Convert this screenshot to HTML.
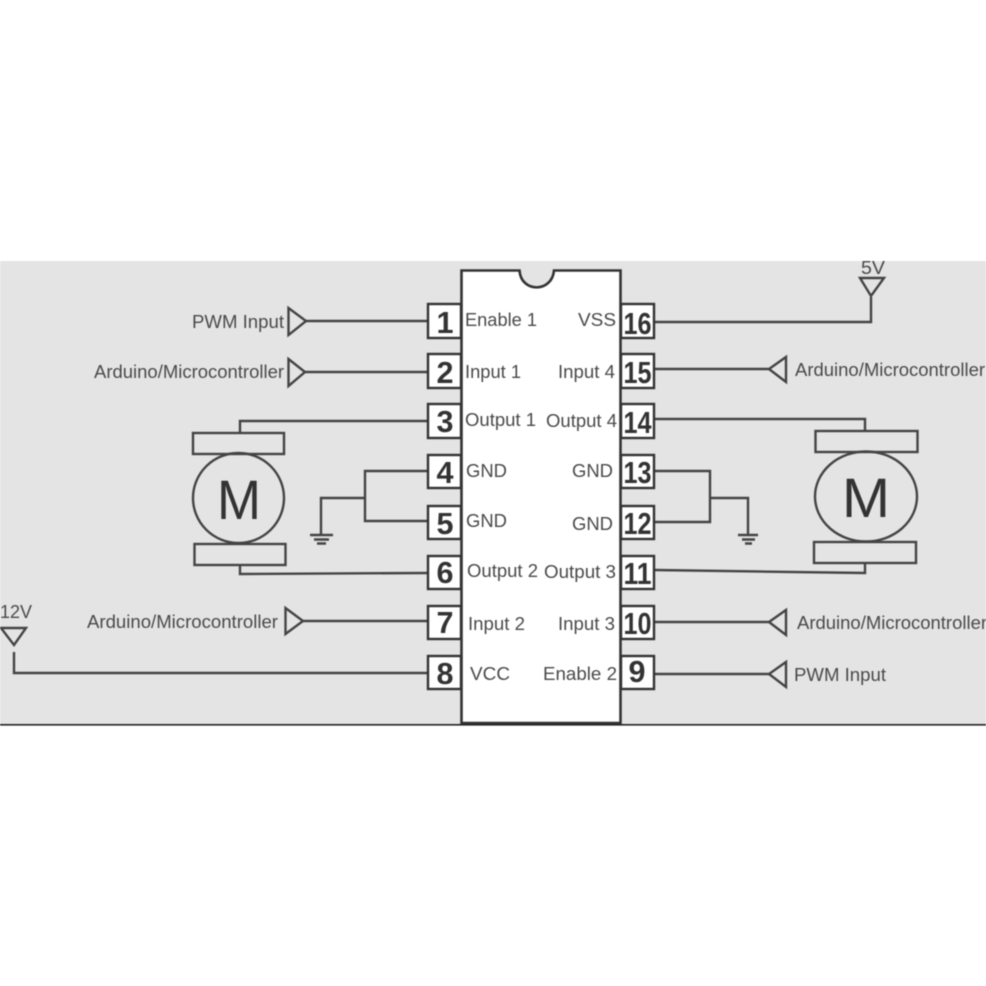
<!DOCTYPE html>
<html><head><meta charset="utf-8"><style>
html,body{margin:0;padding:0;background:#fff;width:986px;height:986px;overflow:hidden}
svg{display:block;filter:blur(.45px)}
text{font-family:"Liberation Sans",Arimo,Arial,Helvetica,sans-serif}
.t{font-size:18.5px;fill:#4a4a4a}
.n{font-size:31px;font-weight:700;fill:#333;text-anchor:middle}
.l{fill:none;stroke:#444;stroke-width:2.4}
.b{fill:#fff;stroke:#333;stroke-width:2.4}
</style></head><body>
<svg width="986" height="986" viewBox="0 0 986 986" xmlns="http://www.w3.org/2000/svg">
<rect x="0" y="261" width="986" height="463" fill="#e4e4e4"/>
<rect x="0" y="724" width="986" height="1.6" fill="#222"/>
<path d="M461.500 723V270.500H519.500C521 293 552 293 554 270.500H620.500V723Z" fill="#fff" stroke="#333" stroke-width="2.6"/>
<g class="l">
<path d="M306 321H428"/>
<path d="M305 372H428"/>
<path d="M240 432V421H428"/>
<path d="M428 471H365V521H428"/>
<path d="M365 498H321V535"/>
<path d="M240 566V574L428 573"/>
<path d="M303 621H428"/>
<path d="M14 652V673H428"/>
<path d="M654 322H871V297"/>
<path d="M654 369H769"/>
<path d="M654 419H865V430"/>
<path d="M654 471H710V522H654"/>
<path d="M710 498H748V535"/>
<path d="M654 570L865 573V563"/>
<path d="M654 622H769"/>
<path d="M654 674H769"/>
<path d="M288.500 308V335L306 321Z"/>
<path d="M288.500 359V386L305 372Z"/>
<path d="M285.500 608V634L303 621Z"/>
<path d="M1 628H26L14 645Z"/>
<path d="M860 278H884L871 296Z"/>
<path d="M786 357V382L769 369Z"/>
<path d="M786 610V635L769 622Z"/>
<path d="M786 662V687L769 674Z"/>
<rect x="193" y="433" width="91" height="21"/>
<rect x="194.500" y="544" width="91" height="21"/>
<ellipse cx="238.500" cy="498" rx="45.500" ry="45"/>
<rect x="815.500" y="431" width="102" height="21"/>
<rect x="814" y="542" width="102" height="21"/>
<ellipse cx="866" cy="496.500" rx="51" ry="45"/>
<path d="M310 535H333M314 539.500H329M317 543.500H326"/>
<path d="M738 535H758M742 539.500H755M745 543.500H752"/>
</g>
<g class="b">
<rect x="428" y="304" width="33" height="34"/><rect x="428" y="354" width="33" height="34"/>
<rect x="428" y="404" width="33" height="34"/><rect x="428" y="455" width="33" height="33"/>
<rect x="428" y="506" width="33" height="33"/><rect x="428" y="556" width="33" height="33"/>
<rect x="428" y="606" width="33" height="33"/><rect x="428" y="656" width="33" height="33"/>
<rect x="621" y="304" width="33" height="34"/><rect x="621" y="354" width="33" height="34"/>
<rect x="621" y="404" width="33" height="34"/><rect x="621" y="455" width="33" height="33"/>
<rect x="621" y="506" width="33" height="33"/><rect x="621" y="556" width="33" height="33"/>
<rect x="621" y="606" width="33" height="33"/><rect x="621" y="656" width="33" height="33"/>
</g>
<g lengthAdjust="spacingAndGlyphs">
<text class="n" x="445" y="333" textLength="17" lengthAdjust="spacingAndGlyphs">1</text><text class="n" x="445" y="383" textLength="17" lengthAdjust="spacingAndGlyphs">2</text>
<text class="n" x="445" y="432" textLength="17" lengthAdjust="spacingAndGlyphs">3</text><text class="n" x="445" y="483" textLength="17" lengthAdjust="spacingAndGlyphs">4</text>
<text class="n" x="445" y="534" textLength="17" lengthAdjust="spacingAndGlyphs">5</text><text class="n" x="445" y="583" textLength="17" lengthAdjust="spacingAndGlyphs">6</text>
<text class="n" x="445" y="633" textLength="17" lengthAdjust="spacingAndGlyphs">7</text><text class="n" x="445" y="684" textLength="17" lengthAdjust="spacingAndGlyphs">8</text>
<text class="n" x="637.500" y="334" textLength="28" lengthAdjust="spacingAndGlyphs">16</text><text class="n" x="637.500" y="383" textLength="28" lengthAdjust="spacingAndGlyphs">15</text>
<text class="n" x="637.500" y="433" textLength="28" lengthAdjust="spacingAndGlyphs">14</text><text class="n" x="637.500" y="483" textLength="28" lengthAdjust="spacingAndGlyphs">13</text>
<text class="n" x="637.500" y="534" textLength="28" lengthAdjust="spacingAndGlyphs">12</text><text class="n" x="637.500" y="584" textLength="28" lengthAdjust="spacingAndGlyphs">11</text>
<text class="n" x="637.500" y="634" textLength="28" lengthAdjust="spacingAndGlyphs">10</text><text class="n" x="637" y="682" textLength="17" lengthAdjust="spacingAndGlyphs">9</text>
</g>
<text class="t" x="465" y="326" textLength="72" lengthAdjust="spacingAndGlyphs">Enable 1</text>
<text class="t" x="465" y="378" textLength="56" lengthAdjust="spacingAndGlyphs">Input 1</text>
<text class="t" x="465" y="426" textLength="71" lengthAdjust="spacingAndGlyphs">Output 1</text>
<text class="t" x="466" y="477" textLength="41" lengthAdjust="spacingAndGlyphs">GND</text>
<text class="t" x="466" y="527" textLength="41" lengthAdjust="spacingAndGlyphs">GND</text>
<text class="t" x="467" y="577" textLength="71" lengthAdjust="spacingAndGlyphs">Output 2</text>
<text class="t" x="468" y="630" textLength="57" lengthAdjust="spacingAndGlyphs">Input 2</text>
<text class="t" x="470" y="680" textLength="40" lengthAdjust="spacingAndGlyphs">VCC</text>
<text class="t" x="578" y="326" textLength="38" lengthAdjust="spacingAndGlyphs">VSS</text>
<text class="t" x="558" y="378" textLength="57" lengthAdjust="spacingAndGlyphs">Input 4</text>
<text class="t" x="546" y="427" textLength="71" lengthAdjust="spacingAndGlyphs">Output 4</text>
<text class="t" x="572" y="477" textLength="41" lengthAdjust="spacingAndGlyphs">GND</text>
<text class="t" x="572" y="530" textLength="41" lengthAdjust="spacingAndGlyphs">GND</text>
<text class="t" x="544" y="578" textLength="72" lengthAdjust="spacingAndGlyphs">Output 3</text>
<text class="t" x="558" y="630" textLength="57" lengthAdjust="spacingAndGlyphs">Input 3</text>
<text class="t" x="543" y="680" textLength="74" lengthAdjust="spacingAndGlyphs">Enable 2</text>
<text class="t" x="192" y="328" textLength="92" lengthAdjust="spacingAndGlyphs">PWM Input</text>
<text class="t" x="94" y="378" textLength="190" lengthAdjust="spacingAndGlyphs">Arduino/Microcontroller</text>
<text class="t" x="87" y="628" textLength="191" lengthAdjust="spacingAndGlyphs">Arduino/Microcontroller</text>
<text class="t" x="795" y="376" textLength="190" lengthAdjust="spacingAndGlyphs">Arduino/Microcontroller</text>
<text class="t" x="797" y="629" textLength="190" lengthAdjust="spacingAndGlyphs">Arduino/Microcontroller</text>
<text class="t" x="794" y="681" textLength="92" lengthAdjust="spacingAndGlyphs">PWM Input</text>
<text class="t" x="0" y="618" textLength="32" lengthAdjust="spacingAndGlyphs">12V</text>
<text class="t" x="861" y="274" textLength="24" lengthAdjust="spacingAndGlyphs">5V</text>
<text x="239" y="519" font-size="56" fill="#333" text-anchor="middle" textLength="44" lengthAdjust="spacingAndGlyphs">M</text>
<text x="866" y="517" font-size="56" fill="#333" text-anchor="middle" textLength="48" lengthAdjust="spacingAndGlyphs">M</text>
</svg>
</body></html>
